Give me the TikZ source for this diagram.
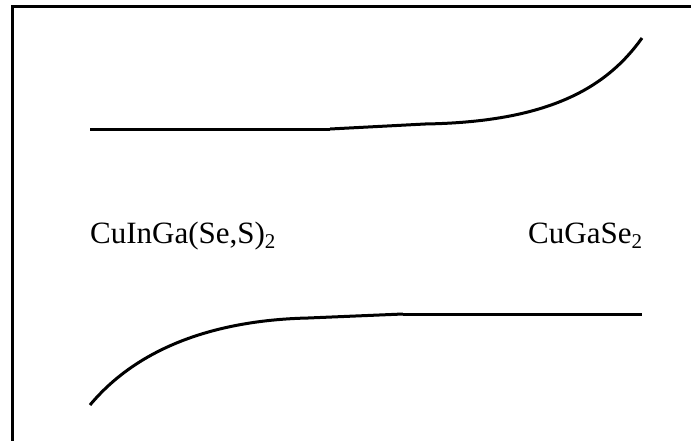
\documentclass[tikz,border=0pt]{standalone}
\usepackage{fontspec}
\setmainfont{Liberation Serif}
\newcommand{\lowsub}[1]{\raisebox{-0.17em}{\fontsize{21}{21}\selectfont #1}}
\begin{document}
\begin{tikzpicture}[x=1pt,y=-1pt,
  band/.style={line width=3pt},
  frameline/.style={line width=3pt},
  lbl/.style={inner sep=0pt,font=\fontsize{31}{37}\selectfont}]
\useasboundingbox (0,0) rectangle (691,440);
\clip (0,0) rectangle (691,440);
\draw[frameline] (12.5,6.5) rectangle (720,470);
% top band (conduction band)
\coordinate (t1) at (90,129);
\coordinate (t2) at (330,129);
\coordinate (t3) at (425,124);
\coordinate (t4) at (642,38);
\draw[band] (t1) -- (t2);
\draw[band] (t2) -- (t3);
\draw[band] (t3) .. controls (545,122) and (605,90) .. (t4);
% bottom band (valence band)
\coordinate (b1) at (90,405);
\coordinate (b2) at (308,318);
\coordinate (b3) at (403,314);
\coordinate (b4) at (642,314);
\draw[band] (b1) .. controls (140,345) and (220,320) .. (b2);
\draw[band] (b2) -- (b3);
\draw[band] (b3) -- (b4);
% labels
\node[lbl,anchor=base west] (l1) at (90,243) {CuInGa(Se,S)\lowsub{2}};
\node[lbl,anchor=base west] (l2) at (528,243) {CuGaSe\lowsub{2}};
\end{tikzpicture}
\end{document}
